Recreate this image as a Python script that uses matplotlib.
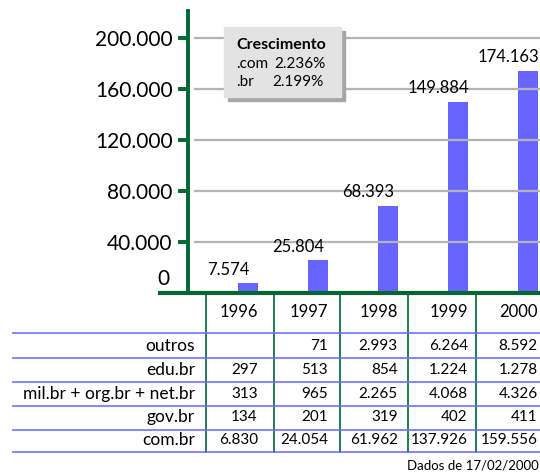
import matplotlib.pyplot as plt
from matplotlib.patches import Rectangle
from matplotlib.transforms import blended_transform_factory

plt.rcParams['font.family'] = ['Lato', 'DejaVu Sans']

anos = ["1996", "1997", "1998", "1999", "2000"]
totais = [7574, 25804, 68393, 149884, 174163]
totais_txt = ["7.574", "25.804", "68.393", "149.884", "174.163"]

linhas = ["outros", "edu.br", "mil.br + org.br + net.br", "gov.br", "com.br"]
tabela = [
    ["", "71", "2.993", "6.264", "8.592"],
    ["297", "513", "854", "1.224", "1.278"],
    ["313", "965", "2.265", "4.068", "4.326"],
    ["134", "201", "319", "402", "411"],
    ["6.830", "24.054", "61.962", "137.926", "159.556"],
]
yticks = [40000, 80000, 120000, 160000, 200000]
ytick_txt = ["40.000", "80.000", "120.000", "160.000", "200.000"]

verde = "#006633"
azul = "#6666ff"
cinza = "#b4b4b4"

W, H = 540, 473
fig = plt.figure(figsize=(W / 100, H / 100), dpi=100)

# overlay in pixel coordinates for the table and the frame lines
ov = fig.add_axes([0, 0, 1, 1], zorder=0)
ov.set_xlim(0, W)
ov.set_ylim(H, 0)
ov.axis("off")

# bar chart
ax = fig.add_axes([188 / W, (H - 293) / H, (W - 188) / W, 282 / H], zorder=1)
ax.patch.set_alpha(0)
x = list(range(len(anos)))
ax.bar(x, totais, width=0.28, color=azul, zorder=2)
ax.set_xlim(-60 / 70, 292 / 70)
ax.set_ylim(0, 221000)

for s in ["top", "right", "bottom"]:
    ax.spines[s].set_visible(False)
ax.spines["left"].set_color(verde)
ax.spines["left"].set_linewidth(2.8)
ax.set_xticks([])
ax.set_yticks(yticks)
ax.set_yticklabels(ytick_txt, fontsize=15)
ax.tick_params(axis="y", length=7, width=2.8, color=verde, pad=4)

# horizontal grid, drawn over the bars
ax.hlines(yticks, -54 / 70, 292 / 70, color=cinza, lw=1.6, zorder=3)

# baseline that reaches past the y axis
ax.axhline(0, xmin=-28 / 352, xmax=1, color=verde, lw=3, clip_on=False, zorder=4)
ax.annotate("0", xy=(0, 0), xycoords=("axes fraction", "data"),
            xytext=(-13, 3), textcoords="offset points",
            ha="right", va="bottom", fontsize=15)

for i, v in enumerate(totais):
    ax.annotate(totais_txt[i], xy=(i - 0.28, v), xytext=(0, 4),
                textcoords="offset points", ha="center", va="bottom",
                fontsize=12, zorder=5)

# growth box with shadow
ov_box = fig.add_axes([0, 0, 1, 1], zorder=2)
ov_box.set_xlim(0, W)
ov_box.set_ylim(H, 0)
ov_box.axis("off")
ov_box.add_patch(Rectangle((228, 31), 117, 70, color="#a6a6a6"))
ov_box.add_patch(Rectangle((224, 27), 117, 70, color="#e3e3e3"))
ov_box.text(236, 45, "Crescimento", fontsize=11.5, fontweight="bold", va="center")
ov_box.text(236, 64, ".com", fontsize=11, va="center")
ov_box.text(274, 64, "2.236%", fontsize=11, va="center")
ov_box.text(236, 82, ".br", fontsize=11, va="center")
ov_box.text(272, 82, "2.199%", fontsize=11, va="center")

# data table under the chart
tr = blended_transform_factory(ax.transData, ov.transData)
col_bordas = [206, 274, 340, 408, 476]
for cx in col_bordas:
    ov.plot([cx, cx], [293, 452], color=verde, lw=1.2)
for ly in [333, 358, 382, 406, 430, 452]:
    ov.plot([13, W], [ly, ly], color=azul, lw=1.3, alpha=0.85)

for i, ano in enumerate(anos):
    ov.text(i + 0.14, 312, ano, transform=tr, ha="right", va="center", fontsize=12)

row_y = [346, 370, 394, 417, 440]
for r, nome in enumerate(linhas):
    ov.text(195, row_y[r], nome, ha="right", va="center", fontsize=12.5)
    for i, val in enumerate(tabela[r]):
        ov.text(i + 0.14, row_y[r], val, transform=tr, ha="right", va="center",
                fontsize=11)

ov.text(539, 465, "Dados de 17/02/2000", ha="right", va="center", fontsize=9.5)

fig.savefig("out.png", dpi=100)
